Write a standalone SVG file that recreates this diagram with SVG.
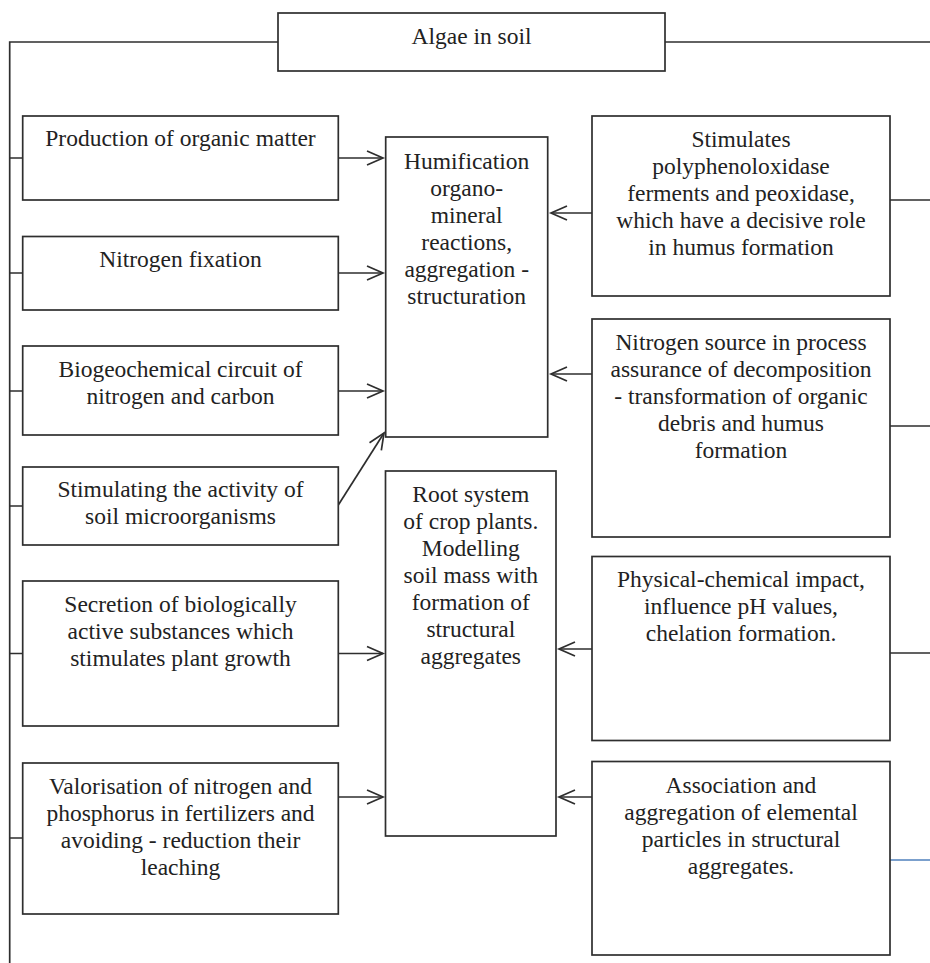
<svg xmlns="http://www.w3.org/2000/svg" width="930" height="963" viewBox="0 0 930 963">
<style>
  .box { fill: #ffffff; stroke: #2e2e2e; stroke-width: 1.7; }
  .ln { fill: none; stroke: #2e2e2e; stroke-width: 1.7; }
  .arr { fill: none; stroke: #2e2e2e; stroke-width: 1.7; marker-end: url(#ah); }
  .blue { fill: none; stroke: #4f81bd; stroke-width: 1.5; }
  text { font-family: "Liberation Serif", "Times New Roman", serif; font-size: 23.5px; fill: #222222; text-anchor: middle; }
</style>
<defs>
  <marker id="ah" markerUnits="userSpaceOnUse" markerWidth="24" markerHeight="20" viewBox="-20 -10 24 20" refX="0" refY="0" orient="auto">
    <path d="M-16,-7 L0,0 L-16,7" fill="none" stroke="#2e2e2e" stroke-width="1.7"/>
  </marker>
</defs>
<rect width="930" height="963" fill="#ffffff"/>

<g id="connectors">
  <!-- trunk lines -->
  <path class="ln" d="M278,42 H9.7 V963"/>
  <path class="ln" d="M665,42 H930"/>
  <!-- left ticks -->
  <path class="ln" d="M9.7,158 H22.7 M9.7,273 H22.7 M9.7,391 H22.7 M9.7,506 H22.7 M9.7,653.5 H22.7 M9.7,838 H22.7"/>
  <!-- right stubs -->
  <path class="ln" d="M890,200 H930 M890,426 H930 M890,653 H930"/>
  <path class="blue" d="M890,860 H930"/>
  <!-- arrows from left boxes -->
  <path class="arr" d="M338.3,158 H383"/>
  <path class="arr" d="M338.3,273 H383"/>
  <path class="arr" d="M338.3,391 H383"/>
  <path class="arr" d="M338.3,505 L384,433"/>
  <path class="arr" d="M338.3,653.5 H383"/>
  <path class="arr" d="M338.3,797 H383"/>
  <!-- arrows from right boxes -->
  <path class="arr" d="M592,213 H551"/>
  <path class="arr" d="M592,374 H551"/>
  <path class="arr" d="M592,649 H559"/>
  <path class="arr" d="M592,797 H559"/>
</g>

<g id="algae">
  <rect class="box" x="278" y="13" width="387" height="58"/>
  <text x="471.5" y="44">Algae in soil</text>
</g>

<g id="production">
  <rect class="box" x="22.7" y="116" width="315.6" height="84"/>
  <text x="180.5" y="146">Production of organic matter</text>
</g>
<g id="nitrogen-fixation">
  <rect class="box" x="22.7" y="236.5" width="315.6" height="73.5"/>
  <text x="180.5" y="267">Nitrogen fixation</text>
</g>
<g id="biogeochemical">
  <rect class="box" x="22.7" y="346" width="315.6" height="89"/>
  <text x="180.5" y="377">Biogeochemical circuit of</text>
  <text x="180.5" y="404">nitrogen and carbon</text>
</g>
<g id="stimulating">
  <rect class="box" x="22.7" y="467" width="315.6" height="78"/>
  <text x="180.5" y="497">Stimulating the activity of</text>
  <text x="180.5" y="524">soil microorganisms</text>
</g>
<g id="secretion">
  <rect class="box" x="22.7" y="581" width="315.6" height="145"/>
  <text x="180.5" y="611.5">Secretion of biologically</text>
  <text x="180.5" y="638.5">active substances which</text>
  <text x="180.5" y="665.5">stimulates plant growth</text>
</g>
<g id="valorisation">
  <rect class="box" x="22.7" y="763" width="315.6" height="151"/>
  <text x="180.5" y="793.5">Valorisation of nitrogen and</text>
  <text x="180.5" y="820.5">phosphorus in fertilizers and</text>
  <text x="180.5" y="847.5">avoiding - reduction their</text>
  <text x="180.5" y="874.5">leaching</text>
</g>

<g id="humification">
  <rect class="box" x="385.7" y="137" width="162" height="300"/>
  <text x="466.7" y="168.5">Humification</text>
  <text x="466.7" y="195.5">organo-</text>
  <text x="466.7" y="222.5">mineral</text>
  <text x="466.7" y="249.5">reactions,</text>
  <text x="466.7" y="276.5">aggregation -</text>
  <text x="466.7" y="303.5">structuration</text>
</g>
<g id="root-system">
  <rect class="box" x="385.5" y="471" width="170.5" height="365"/>
  <text x="470.8" y="501.5">Root system</text>
  <text x="470.8" y="528.5">of crop plants.</text>
  <text x="470.8" y="555.5">Modelling</text>
  <text x="470.8" y="582.5">soil mass with</text>
  <text x="470.8" y="609.5">formation of</text>
  <text x="470.8" y="636.5">structural</text>
  <text x="470.8" y="663.5">aggregates</text>
</g>

<g id="stimulates">
  <rect class="box" x="592" y="116" width="298" height="180"/>
  <text x="741" y="147">Stimulates</text>
  <text x="741" y="174">polyphenoloxidase</text>
  <text x="741" y="201">ferments and peoxidase,</text>
  <text x="741" y="228">which have a decisive role</text>
  <text x="741" y="255">in humus formation</text>
</g>
<g id="nitrogen-source">
  <rect class="box" x="592" y="319" width="298" height="218"/>
  <text x="741" y="350">Nitrogen source in process</text>
  <text x="741" y="377">assurance of decomposition</text>
  <text x="741" y="404">- transformation of organic</text>
  <text x="741" y="431">debris and humus</text>
  <text x="741" y="458">formation</text>
</g>
<g id="physical-chemical">
  <rect class="box" x="592" y="556.5" width="298" height="184"/>
  <text x="741" y="587">Physical-chemical impact,</text>
  <text x="741" y="614">influence pH values,</text>
  <text x="741" y="641">chelation formation.</text>
</g>
<g id="association">
  <rect class="box" x="592" y="761.5" width="298" height="193.5"/>
  <text x="741" y="792.5">Association and</text>
  <text x="741" y="819.5">aggregation of elemental</text>
  <text x="741" y="846.5">particles in structural</text>
  <text x="741" y="873.5">aggregates.</text>
</g>
</svg>
